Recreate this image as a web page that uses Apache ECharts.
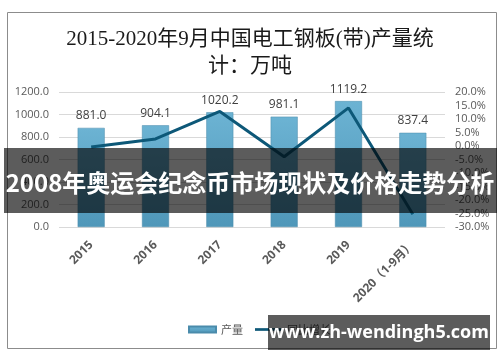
<!DOCTYPE html>
<html><head><meta charset="utf-8">
<script src="https://cdn.jsdelivr.net/npm/echarts@6/dist/echarts.min.js"></script>
<style>html,body{margin:0;padding:0;background:#fff}#c{width:500px;height:362px}</style>
</head><body><div id="c"></div>
<script>
const categories = ['2015','2016','2017','2018','2019','2020（1-9月）'];
const output = [881.0, 904.1, 1020.2, 981.1, 1119.2, 837.4];
const growth = [-0.4, 2.6, 12.8, -4.0, 14.1, -25.3];
const leftTicks = [0, 200, 400, 600, 800, 1000, 1200];
const rightTicks = [-30, -25, -20, -15, -10, -5, 0, 5, 10, 15, 20];
const titleText = '2015-2020年9月中国电工钢板(带)产量统\n计：万吨';
const bannerText = '2008年奥运会纪念币市场现状及价格走势分析';
const watermarkText = 'www.zh-wendingh5.com';

const chart = echarts.init(document.getElementById('c'), null, {renderer:'canvas'});
const axisLabelColor = '#595959';
chart.setOption({
  animation:false,
  title:{text:titleText, left:'center', top:21,
    textStyle:{fontFamily:'"Liberation Serif","Noto Sans CJK SC",serif', fontSize:21, fontWeight:'normal', color:'#1a1a1a', lineHeight:27}},
  grid:{left:59, right:55, top:92, bottom:135},
  legend:{bottom:22, left:183, itemGap:12, itemWidth:27, itemHeight:6,
    textStyle:{fontFamily:'"Noto Sans CJK SC",sans-serif', fontSize:11, color:axisLabelColor},
    data:[{name:'产量', icon:'rect'},{name:'同比增长', icon:'path://M0,0H30V3H0Z'}]},
  xAxis:{type:'category', data:categories,
    axisLine:{show:false}, axisTick:{show:false},
    axisLabel:{rotate:45, interval:0, color:axisLabelColor, fontSize:12, fontWeight:'bold', margin:16,
      fontFamily:'"Open Sans","Noto Sans CJK SC",sans-serif'}},
  yAxis:[
    {type:'value', min:0, max:1200, interval:200, position:'left',
      axisLine:{show:false}, axisTick:{show:false},
      splitLine:{lineStyle:{color:'#d9d9d9', width:1}},
      axisLabel:{formatter:v=>v.toFixed(1), color:axisLabelColor, fontSize:11, margin:10,
        fontFamily:'"Open Sans",sans-serif'}},
    {type:'value', min:-30, max:20, interval:5, position:'right',
      axisLine:{show:false}, axisTick:{show:false}, splitLine:{show:false},
      axisLabel:{formatter:v=>v.toFixed(1)+'%', color:axisLabelColor, fontSize:11, margin:10,
        fontFamily:'"Open Sans",sans-serif'}}
  ],
  series:[
    {name:'产量', type:'bar', data:output, barWidth:'42%', yAxisIndex:0,
      itemStyle:{color:new echarts.graphic.LinearGradient(0,0,0,1,[{offset:0,color:'#6cb3d3'},{offset:1,color:'#4f97b9'}]),
        borderColor:'#4a8bab', borderWidth:0.5},
      label:{show:true, position:'top', distance:6, formatter:p=>p.value.toFixed(1), color:'#404040', fontSize:12,
        fontFamily:'"Open Sans",sans-serif'}},
    {name:'同比增长', type:'line', data:growth, yAxisIndex:1, symbol:'none',
      lineStyle:{color:'#0d5878', width:3}, itemStyle:{color:'#0d5878'}}
  ],
  graphic:[
    {type:'rect', shape:{x:7.5, y:12.5, width:489, height:336}, style:{fill:'none', stroke:'#8c8c8c', lineWidth:1}, z:100},
    {type:'rect', shape:{x:4, y:148, width:493, height:65}, style:{fill:'rgba(0,0,0,0.64)'}, z:200},
    {type:'text', x:250, y:183, style:{text:bannerText, fill:'#fff', fontSize:24, fontWeight:'bold',
      fontFamily:'"Noto Sans CJK SC",sans-serif', align:'center', verticalAlign:'middle'}, z:201},
    {type:'rect', shape:{x:268, y:315, width:222, height:35}, style:{fill:'rgba(0,0,0,0.64)'}, z:200},
    {type:'text', x:379, y:333, style:{text:watermarkText, fill:'#fff', fontSize:18, fontWeight:'bold',
      fontFamily:'"Open Sans",sans-serif', align:'center', verticalAlign:'middle'}, z:201}
  ]
});
</script></body></html>
